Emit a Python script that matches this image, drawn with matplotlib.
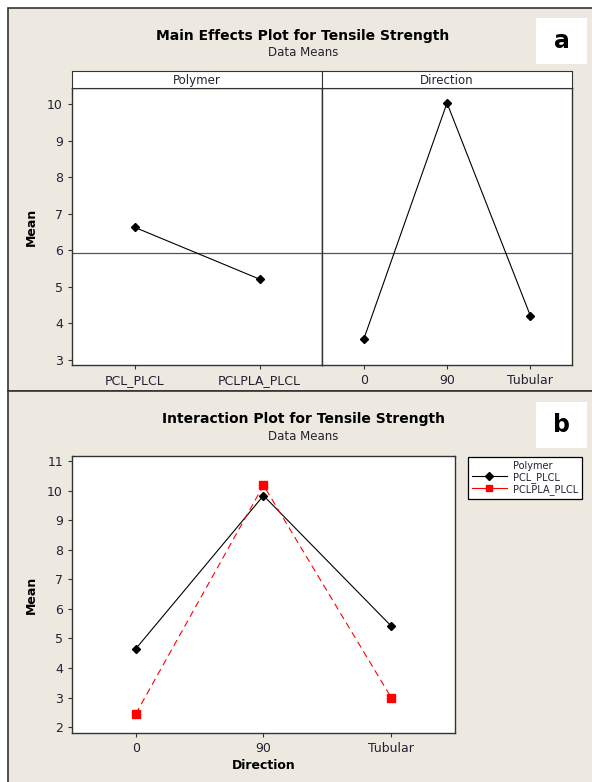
# Minitab-style main effects + interaction plots for tensile strength
import matplotlib.pyplot as plt
from matplotlib.patches import Rectangle
from matplotlib.lines import Line2D

# main effects (data means)
polymer_levels = ['PCL_PLCL', 'PCLPLA_PLCL']
polymer_means = [6.63, 5.21]
direction_levels = ['0', '90', 'Tubular']
direction_means = [3.56, 10.03, 4.21]
grand_mean = 5.93

# interaction (data means per polymer, by direction)
series_names = ['PCL_PLCL', 'PCLPLA_PLCL']
pcl_plcl = [4.65, 9.83, 5.42]
pclpla_plcl = [2.45, 10.18, 3.00]

W, H = 592, 782
bg = '#EDE9E0'
txt = '#222233'


def rect(x0, y0, x1, y1):
    # pixel box (top-left origin) -> figure fraction
    return [x0 / W, 1 - y1 / H, (x1 - x0) / W, (y1 - y0) / H]


def style(ax):
    for s in ax.spines.values():
        s.set_color('#333333')
        s.set_linewidth(1.0)
    ax.tick_params(direction='out', length=3, width=0.8, colors='#333333',
                   labelsize=9, labelcolor=txt)


fig = plt.figure(figsize=(W / 100, H / 100), dpi=100, facecolor='white')

# panel backgrounds
for y0, y1 in [(8, 391), (391, 800)]:
    r = rect(8, y0, 610, y1)
    fig.patches.append(Rectangle((r[0], r[1]), r[2], r[3], transform=fig.transFigure,
                                 facecolor=bg, edgecolor='#333333', lw=1.2, zorder=-5))

# panel letters
for lab, (x0, y0, x1, y1) in [('a', (536, 18, 587, 64)), ('b', (536, 402, 587, 448))]:
    r = rect(x0, y0, x1, y1)
    fig.patches.append(Rectangle((r[0], r[1]), r[2], r[3], transform=fig.transFigure,
                                 facecolor='white', edgecolor='none', zorder=-4))
    fig.text(r[0] + r[2] / 2, r[1] + r[3] / 2, lab, ha='center', va='center',
             fontsize=17, fontweight='bold', color='black')

# ---- panel a: main effects ----
fig.text(303 / W, 1 - 36 / H, 'Main Effects Plot for Tensile Strength', ha='center', va='center',
         fontsize=10, fontweight='bold', color='black')
fig.text(303 / W, 1 - 53 / H, 'Data Means', ha='center', va='center', fontsize=8.5, color=txt)

ylim_a = (2.86, 10.44)
ax1 = fig.add_axes(rect(72, 88, 322, 365))
ax2 = fig.add_axes(rect(322, 88, 572, 365))
for ax, levels, means, name in [(ax1, polymer_levels, polymer_means, 'Polymer'),
                                (ax2, direction_levels, direction_means, 'Direction')]:
    x = list(range(len(levels)))
    ax.plot(x, means, color='black', lw=0.8, marker='D', ms=4.5, zorder=3)
    ax.axhline(grand_mean, color='#555555', lw=0.9, zorder=2)
    ax.set_xlim(-0.5, len(levels) - 0.5)
    ax.set_ylim(*ylim_a)
    ax.set_xticks(x)
    ax.set_xticklabels(levels)
    style(ax)
    pos = ax.get_position()
    strip = fig.add_axes([pos.x0, 1 - 88 / H, pos.width, 17 / H])
    strip.set_xticks([])
    strip.set_yticks([])
    for s in strip.spines.values():
        s.set_color('#333333')
    strip.text(0.5, 0.45, name, ha='center', va='center', fontsize=8.5, color=txt,
               transform=strip.transAxes)
ax1.set_yticks(range(3, 11))
ax2.set_yticks([])
ax1.set_ylabel('Mean', fontsize=9, fontweight='bold', color='black', labelpad=7)

# ---- panel b: interaction ----
fig.text(303 / W, 1 - 419 / H, 'Interaction Plot for Tensile Strength', ha='center', va='center',
         fontsize=10, fontweight='bold', color='black')
fig.text(303 / W, 1 - 437 / H, 'Data Means', ha='center', va='center', fontsize=8.5, color=txt)

ax3 = fig.add_axes(rect(72, 456, 455, 733))
xd = list(range(len(direction_levels)))
l1, = ax3.plot(xd, pcl_plcl, color='black', lw=0.8, marker='D', ms=4.5, label=series_names[0])
l2, = ax3.plot(xd, pclpla_plcl, color='red', lw=0.8, ls=(0, (6, 4)), marker='s', ms=6,
               label=series_names[1])
ax3.set_xlim(-0.5, 2.5)
ax3.set_ylim(1.8, 11.17)
ax3.set_yticks(range(2, 12))
ax3.set_xticks(xd)
ax3.set_xticklabels(direction_levels)
style(ax3)
ax3.set_xlabel('Direction', fontsize=9, fontweight='bold', color='black', labelpad=3)
ax3.set_ylabel('Mean', fontsize=9, fontweight='bold', color='black', labelpad=7)

blank = Line2D([], [], linestyle='none')
h1 = Line2D([], [], color='black', lw=0.8, marker='D', ms=4)
h2 = Line2D([], [], color='red', lw=0.8, marker='s', ms=4)
leg = fig.legend([blank, h1, h2], ['Polymer'] + series_names, loc='upper left',
                 bbox_to_anchor=(468 / W, 1 - 457 / H), fontsize=7, frameon=True,
                 fancybox=False, edgecolor='black', framealpha=1, handlelength=3.6,
                 handletextpad=0.6, labelspacing=0.1, borderpad=0.4, borderaxespad=0)
leg.get_frame().set_linewidth(0.9)
for t in leg.get_texts():
    t.set_color(txt)

plt.savefig('out.png', dpi=100, facecolor=fig.get_facecolor())
